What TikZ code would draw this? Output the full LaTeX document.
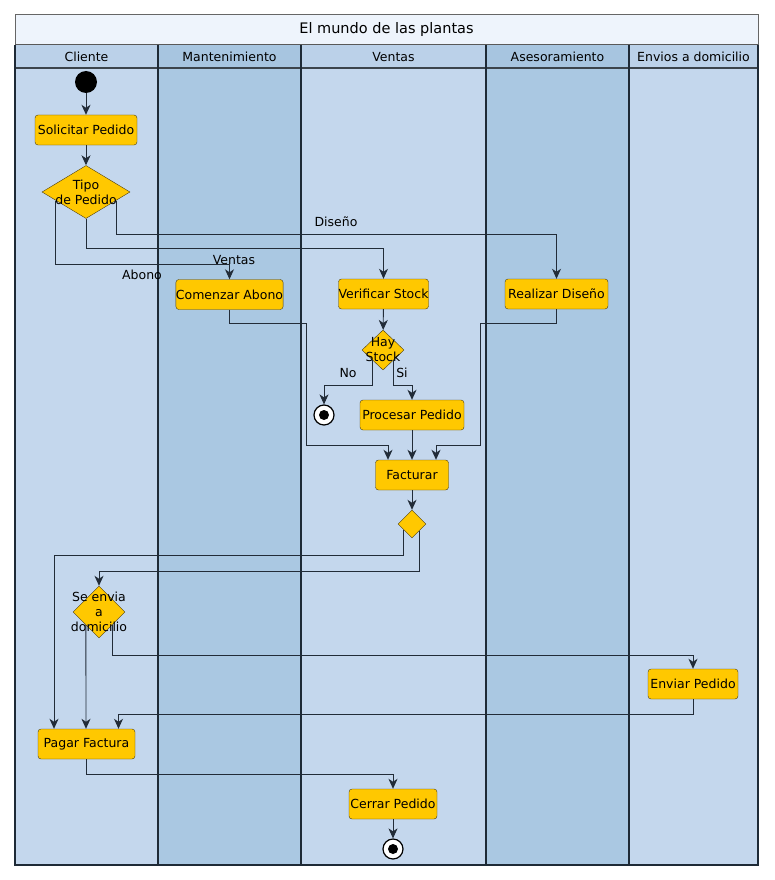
\documentclass[tikz,border=0pt]{standalone}
\usepackage{fontspec}
\setmainfont{DejaVu Sans}
\usetikzlibrary{arrows.meta,shapes.geometric,calc}
\definecolor{lanelt}{HTML}{C4D7ED}
\definecolor{lanedk}{HTML}{AAC8E2}
\definecolor{headlt}{HTML}{BBD1E9}
\definecolor{headdk}{HTML}{A7C5E0}
\definecolor{titlebg}{HTML}{EEF4FC}
\definecolor{actfill}{HTML}{FFC800}
\definecolor{actline}{HTML}{4A3C10}
\definecolor{flow}{HTML}{222C38}
\definecolor{sep}{HTML}{1E2A36}
\tikzset{act/.style={draw=actline, fill=actfill, rounded corners=3pt, minimum width=#1, minimum height=30pt, inner xsep=0pt, font=\fontsize{12.5}{14}\selectfont}}
\tikzset{dec/.style={diamond, draw=actline, fill=actfill, inner sep=0pt}}
\tikzset{dtxt/.style={font=\fontsize{12.5}{15}\selectfont, align=center}}
\tikzset{lbl/.style={font=\fontsize{12.5}{14}\selectfont, inner sep=0pt}}
\tikzset{fl/.style={draw=flow, line width=0.9pt, -{Stealth[length=10pt,width=9pt,inset=3pt]}}}
\tikzset{endn/.style={circle, draw=black, line width=1.2pt, fill=white, minimum size=20pt, inner sep=0pt,
  path picture={\fill[black] (path picture bounding box.center) circle (5pt);}}}

\begin{document}
\begin{tikzpicture}[x=1pt,y=-1pt]
                \useasboundingbox (0,0) rectangle (774,880);
                % lanes
                \fill[titlebg] (15,15) rectangle (758,45);
                \fill[headlt] (15,45) rectangle (158,68);
                \fill[headdk] (158,45) rectangle (301,68);
                \fill[headlt] (301,45) rectangle (486,68);
                \fill[headdk] (486,45) rectangle (629,68);
                \fill[headlt] (629,45) rectangle (758,68);
                \fill[lanelt] (15,68) rectangle (158,865);
                \fill[lanedk] (158,68) rectangle (301,865);
                \fill[lanelt] (301,68) rectangle (486,865);
                \fill[lanedk] (486,68) rectangle (629,865);
                \fill[lanelt] (629,68) rectangle (758,865);
                \draw[gray!80!black, line width=1pt] (15,45) -- (15,15) -- (758,15) -- (758,45);
                \draw[gray!70!black, line width=1pt] (15,45) -- (758,45);
                \draw[sep!70!gray, line width=1.6pt] (15,68) -- (758,68);
                \foreach \xx in {158,301,486,629}
                  \draw[sep, line width=1.6pt] (\xx,45) -- (\xx,865);
                \draw[sep, line width=1.6pt] (15,45) -- (15,865) -- (758,865) -- (758,45);
                \node[font=\fontsize{14.5}{16}\selectfont] (titulo) at (386.5,30) {El mundo de las plantas};
                \node[lbl] (hcli) at (86.5,57) {Cliente};
                \node[lbl] (hman) at (229.5,57) {Mantenimiento};
                \node[lbl] (hven) at (393.5,57) {Ventas};
                \node[lbl] (hase) at (557.5,57) {Asesoramiento};
                \node[lbl] (henv) at (693.5,57) {Envios a domicilio};
                % actividades
                \node[circle, fill=black, minimum size=22pt, inner sep=0pt] (ini) at (86,82) {};
                \node[act=102pt] (sol) at (86,130) {Solicitar Pedido};
                \node[dec, minimum width=88pt, minimum height=53pt] (tipo) at (86,192) {};
                \node[dtxt] (ttipo) at (86,192) {Tipo\\de Pedido};
                \node[act=103pt] (abono) at (229.5,294.5) {Comenzar Abono};
                \node[act=89pt] (ver) at (383.5,294) {Verificar Stock};
                \node[act=103pt] (dis) at (556.5,294) {Realizar Diseño};
                \node[dec, minimum width=42pt, minimum height=40pt] (hay) at (383,350) {};
                \node[dtxt] (thay) at (383,350) {Hay\\Stock};
                \node[endn] (fin1) at (324,415) {};
                \node[act=104pt] (proc) at (412,415) {Procesar Pedido};
                \node[act=73pt] (fact) at (412,475) {Facturar};
                \node[dec, minimum width=28pt, minimum height=28pt] (mrg) at (412,524) {};
                \node[dec, minimum width=52pt, minimum height=52pt] (sed) at (99,612) {};
                \node[dtxt] (tsed) at (99,612) {Se envia\\a\\domicilio};
                \node[act=90pt] (env) at (693,684) {Enviar Pedido};
                \node[act=97pt] (pag) at (86.5,744) {Pagar Factura};
                \node[act=88pt] (cer) at (393,804) {Cerrar Pedido};
                \node[endn] (fin2) at (393,849) {};
                % etiquetas
                \node[lbl] (labono) at (142,275) {Abono};
                \node[lbl] (lventas) at (234,260) {Ventas};
                \node[lbl] (ldis) at (336,222) {Diseño};
                \node[lbl] (lno) at (348,373) {No};
                \node[lbl] (lsi) at (402,373) {Si};
                % flujos
                \draw[fl] (ini) -- (sol);
                \draw[fl] (sol) -- (tipo);
                \draw[fl] ($(tipo.west)!0.32!(tipo.south)$) -- ++(0,64) -| (abono);
                \draw[fl] (tipo.south) -- ++(0,30) -| (ver);
                \draw[fl] ($(tipo.east)!0.32!(tipo.south)$) -- ++(0,34) -| (dis);
                \draw[fl] (ver) -- (hay);
                \draw[fl] ($(hay.west)!0.5!(hay.south)$) -- ++(0,25) -| (fin1);
                \draw[fl] ($(hay.east)!0.5!(hay.south)$) -- ++(0,25) -| (proc);
                \draw[fl] (abono.south) -- ++(0,14) -- ++(77,0) -- ++(0,122) -| ($(fact.north)+(-24,0)$);
                \draw[fl] (proc) -- (fact);
                \draw[fl] (dis.south) -- ++(0,14) -- ++(-76,0) -- ++(0,122) -| ($(fact.north)+(24,0)$);
                \draw[fl] (fact) -- (mrg);
                \draw[fl] ($(mrg.west)!0.43!(mrg.south)$) -- ++(0,25) -| ($(pag.north)+(-32.5,0)$);
                \draw[fl] ($(mrg.east)!0.5!(mrg.south)$) -- ++(0,40) -| (sed);
                \draw[fl] ($(sed.west)!0.5!(sed.south)$) -- ($(pag.north)+(-0.5,0)$);
                \draw[fl] ($(sed.east)!0.5!(sed.south)$) -- ++(0,30) -| (env);
                \draw[fl] (env.south) -- ++(0,15) -| ($(pag.north)+(32,0)$);
                \draw[fl] (pag.south) -- ++(0,15) -| (cer);
                \draw[fl] (cer) -- (fin2);
\end{tikzpicture}
\end{document}
